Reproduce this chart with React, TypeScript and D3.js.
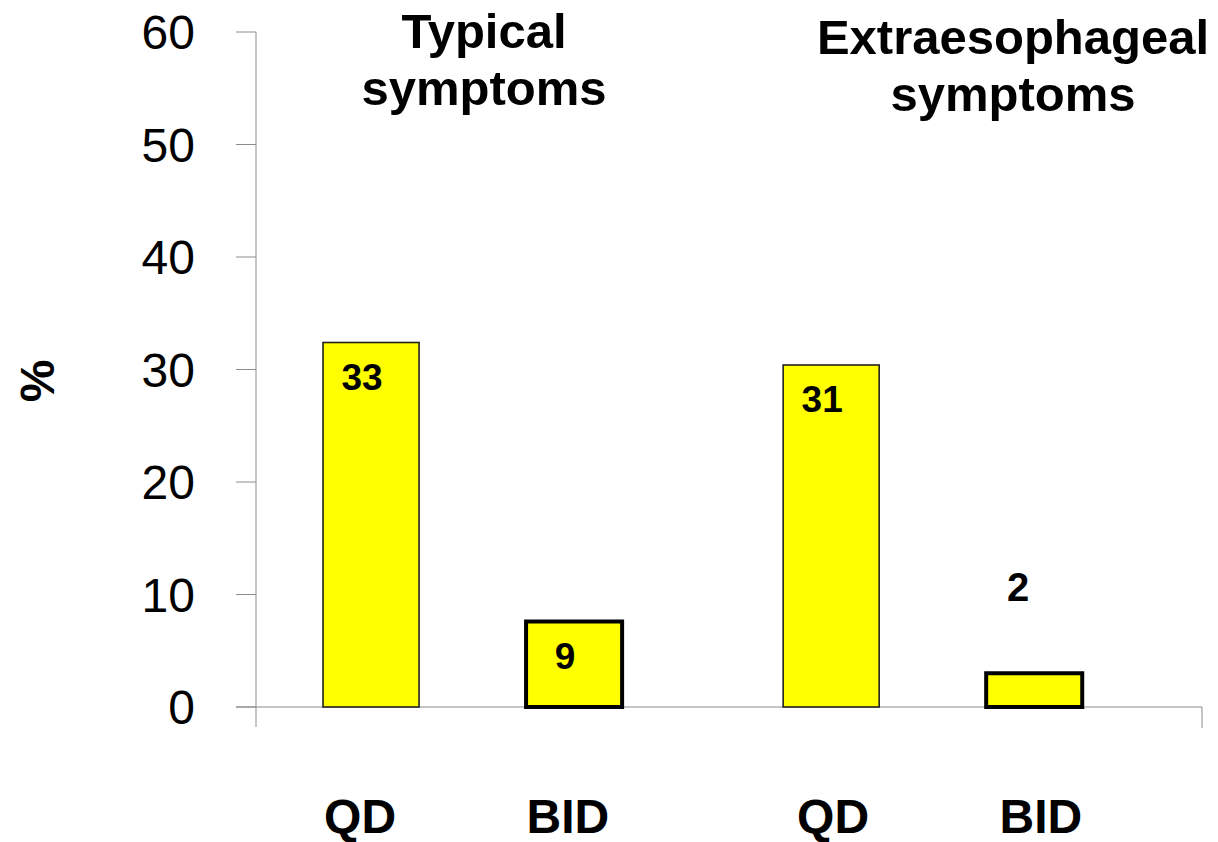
import React from "react";
import * as d3 from "d3";

const groups = ["Typical symptoms", "Extraesophageal symptoms"];
const groupTitleLines = [["Typical", "symptoms"], ["Extraesophageal", "symptoms"]];
const doses = ["QD", "BID"];
const typicalValues = [32.4, 7.6];
const extraValues = [30.4, 3.0];
const typicalLabels = ["33", "9"];
const extraLabels = ["31", "2"];
const yTicks = [0, 10, 20, 30, 40, 50, 60];

const W = 1218;
const H = 842;
const M = { left: 256, right: 16, top: 32, bottom: 135 };
const FONT = "'Liberation Sans', Arial, Helvetica, sans-serif";

export default function App() {
  const x0 = d3
    .scaleBand<string>()
    .domain(groups)
    .range([M.left, W - M.right])
    .paddingInner(0)
    .paddingOuter(0.028)
    .align(0.27);
  const inner = d3
    .scaleBand<string>()
    .domain(doses)
    .range([0, x0.bandwidth()])
    .paddingInner(0.527)
    .paddingOuter(0.3965)
    .align(0.373);
  const xLabelGroup = d3.scaleBand<string>().domain(groups).range([M.left, W - M.right]).padding(0);
  const labelInner = d3
    .scaleBand<string>()
    .domain(doses)
    .range([0, xLabelGroup.bandwidth()])
    .paddingInner(0.5)
    .paddingOuter(0.3884)
    .align(0.323);
  const y = d3.scaleLinear().domain([0, 60]).range([H - M.bottom, M.top]);

  const series = [
    { g: groups[0], values: typicalValues, labels: typicalLabels },
    { g: groups[1], values: extraValues, labels: extraLabels },
  ];

  const axisColor = "#8c8c8c";
  const y0 = y(0);
  const xEnd = W - M.right;

  return (
    <svg
      width={W}
      height={H}
      style={{ position: "absolute", left: 0, top: 0, background: "#fff" }}
      fontFamily={FONT}
    >
      {/* y axis */}
      <line x1={M.left} x2={M.left} y1={y(60)} y2={y0 + 20} stroke={axisColor} strokeWidth={1} />
      {yTicks.map((t) => (
        <g key={t}>
          <line x1={M.left - 20} x2={M.left} y1={y(t)} y2={y(t)} stroke={axisColor} strokeWidth={1} />
          <text x={M.left - 61} y={y(t)} dy="0.36em" textAnchor="end" fontSize={48} fill="#000">
            {t}
          </text>
        </g>
      ))}
      {/* x axis */}
      <line x1={M.left - 20} x2={xEnd} y1={y0} y2={y0} stroke={axisColor} strokeWidth={1.2} />
      <line x1={xEnd} x2={xEnd} y1={y0} y2={y0 + 21} stroke={axisColor} strokeWidth={1} />

      {/* y label */}
      <text
        transform={`translate(${54},${381}) rotate(-90)`}
        textAnchor="middle"
        fontSize={48}
        fontWeight="bold"
      >
        %
      </text>

      {series.map((s, gi) => (
        <g key={s.g}>
          {doses.map((d, i) => {
            const bx = (x0(s.g) as number) + (inner(d) as number);
            const bw = inner.bandwidth();
            const v = s.values[i];
            const isBid = d === "BID";
            const top = y(v);
            const cx = bx + bw / 2;
            const labelAbove = v < 5;
            return (
              <g key={d}>
                <rect
                  x={bx}
                  y={top}
                  width={bw}
                  height={y0 - top}
                  fill="#ffff00"
                  stroke={isBid ? "#000" : "#222"}
                  strokeWidth={isBid ? 4 : 1.6}
                />
                <text
                  x={labelAbove ? cx - 16 : cx - 9}
                  y={labelAbove ? top - 72 : top + 47}
                  textAnchor="middle"
                  fontSize={labelAbove ? 40 : 37}
                  fontWeight="bold"
                >
                  {s.labels[i]}
                </text>
              </g>
            );
          })}
          {doses.map((d) => (
            <text
              key={"l" + d}
              x={(xLabelGroup(s.g) as number) + (labelInner(d) as number) + labelInner.bandwidth() / 2}
              y={833}
              textAnchor="middle"
              fontSize={48}
              fontWeight="bold"
            >
              {d}
            </text>
          ))}
          {groupTitleLines[gi].map((line, li) => (
            <text
              key={line}
              x={gi === 0 ? 484 : 1013}
              y={(gi === 0 ? 48 : 54) + li * 57}
              textAnchor="middle"
              fontSize={49}
              fontWeight="bold"
            >
              {line}
            </text>
          ))}
        </g>
      ))}
    </svg>
  );
}
